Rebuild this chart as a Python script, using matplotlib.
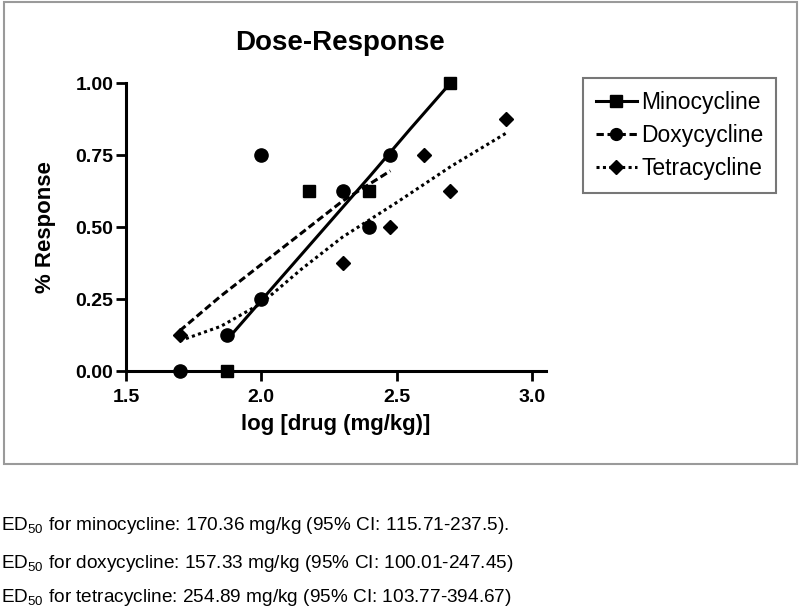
import matplotlib
matplotlib.use('Agg')
import matplotlib.pyplot as plt
from matplotlib.patches import Rectangle

plt.rcParams['font.family'] = ['Liberation Sans', 'DejaVu Sans']

# log dose vs response - observed points
mino_x = [1.875, 2.176, 2.398, 2.699]
mino_y = [0.0, 0.625, 0.625, 1.0]
doxy_x = [1.699, 1.875, 2.0, 2.0, 2.301, 2.398, 2.477]
doxy_y = [0.0, 0.125, 0.75, 0.25, 0.625, 0.5, 0.75]
tetra_x = [1.699, 2.301, 2.477, 2.602, 2.699, 2.903]
tetra_y = [0.125, 0.375, 0.5, 0.75, 0.625, 0.875]

# fitted curves
mino_fit_x = [1.875, 2.0, 2.2, 2.4, 2.55, 2.699]
mino_fit_y = [0.11, 0.245, 0.46, 0.675, 0.84, 1.0]
doxy_fit_x = [1.699, 1.85, 2.0, 2.15, 2.3, 2.477]
doxy_fit_y = [0.14, 0.26, 0.37, 0.48, 0.59, 0.695]
tetra_fit_x = [1.699, 1.85, 2.0, 2.15, 2.3, 2.5, 2.7, 2.903]
tetra_fit_y = [0.105, 0.155, 0.235, 0.355, 0.465, 0.585, 0.71, 0.825]

labels = ['Minocycline', 'Doxycycline', 'Tetracycline']
x_ticks = [1.5, 2.0, 2.5, 3.0]
y_ticks = [0.0, 0.25, 0.5, 0.75, 1.0]

ed50_lines = [
    ('minocycline', '170.36 mg/kg (95% CI: 115.71-237.5).'),
    ('doxycycline', '157.33 mg/kg (95% CI: 100.01-247.45)'),
    ('tetracycline', '254.89 mg/kg (95% CI: 103.77-394.67)'),
]

fig = plt.figure(figsize=(8, 6.06), dpi=100)
W, H = 800, 606

# grey frame around the graph
fig.patches.append(Rectangle((4 / W, 1 - 464 / H), 793 / W, 462 / H, transform=fig.transFigure,
                             fill=False, edgecolor='#9a9a9a', linewidth=1.5))

ax = fig.add_axes([126 / W, 1 - 371 / H, 420 / W, 288 / H])
ax.set_xlim(1.5, 3.052)
ax.set_ylim(0, 1.0)

lw = 2.2
dash = (0, (2.4, 1.2))
dots = (0, (1.0, 1.1))
ax.plot(mino_fit_x, mino_fit_y, color='black', lw=lw, ls='-', solid_capstyle='butt')
ax.plot(doxy_fit_x, doxy_fit_y, color='black', lw=lw, ls=dash)
ax.plot(tetra_fit_x, tetra_fit_y, color='black', lw=lw, ls=dots)

ax.plot(mino_x, mino_y, ls='none', marker='s', ms=9, color='black', clip_on=False, zorder=5)
ax.plot(doxy_x, doxy_y, ls='none', marker='o', ms=9.5, color='black', clip_on=False, zorder=5)
ax.plot(tetra_x, tetra_y, ls='none', marker='D', ms=7.5, color='black', clip_on=False, zorder=5)

# legend handles
h1, = ax.plot([], [], color='black', lw=lw, ls='-', marker='s', ms=8)
h2, = ax.plot([], [], color='black', lw=lw, ls=dash, marker='o', ms=8.5)
h3, = ax.plot([], [], color='black', lw=lw, ls=dots, marker='D', ms=7)
leg = fig.legend([h1, h2, h3], labels, loc='upper left', bbox_to_anchor=(583 / W, 1 - 78 / H),
                 fontsize=16.5, frameon=True, fancybox=False, handlelength=1.8,
                 handletextpad=0.2, borderpad=0.55, labelspacing=0.45, borderaxespad=0)
leg.get_frame().set_edgecolor('#555555')
leg.get_frame().set_linewidth(1.5)

for s in ['top', 'right']:
    ax.spines[s].set_visible(False)
for s in ['left', 'bottom']:
    ax.spines[s].set_linewidth(2.2)

ax.set_xticks(x_ticks)
ax.set_xticklabels([f'{t:.1f}' for t in x_ticks])
ax.set_yticks(y_ticks)
ax.set_yticklabels([f'{t:.2f}' for t in y_ticks])
ax.tick_params(axis='both', direction='out', length=7, width=2, labelsize=14)
ax.tick_params(axis='x', pad=6)
ax.tick_params(axis='y', pad=2)
for t in ax.get_xticklabels() + ax.get_yticklabels():
    t.set_fontweight('bold')

ax.set_xlabel('log [drug (mg/kg)]', fontsize=16, fontweight='bold', labelpad=6)
ax.set_ylabel('% Response', fontsize=16, fontweight='bold', labelpad=14)
fig.text(340 / W, 1 - 43 / H, 'Dose-Response', fontsize=20, fontweight='bold', ha='center', va='center')

ys = [525, 563, 597]
for (drug, rest), y in zip(ed50_lines, ys):
    fig.text(1 / W, 1 - y / H, 'ED$_{\\mathregular{50}}$ for ' + drug + ': ' + rest,
             fontsize=13.7, ha='left', va='center')

fig.savefig('out.png', dpi=100)
